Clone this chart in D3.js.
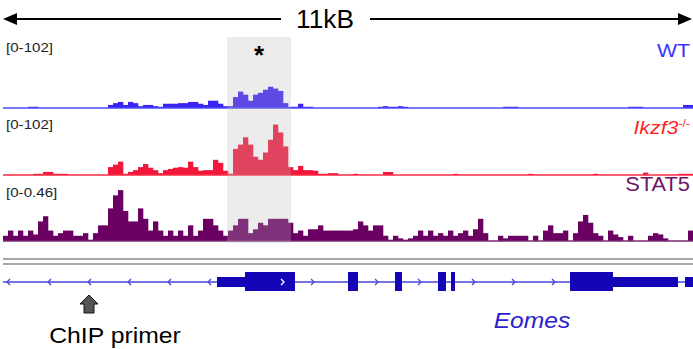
<!DOCTYPE html>
<html>
<head>
<script src="https://d3js.org/d3.v7.min.js"></script>
<style>
  body { margin: 0; background: #fff; }
  text { font-family: Arial, "Liberation Sans", sans-serif; }
</style>
</head>
<body>
<svg width="693" height="349" id="igv"></svg>
<script>
// genomic window, 80 bp bins, 138 bins ~ 11 kB
const binSize = 80;
const regionLength = 11040;

const wtValues = [
  0,0,0,0,0, 2,2,0,0,0, 0,0,0,0,0, 0,0,0,0,0,
  0,5,8,10,5, 10,8,3,5,5, 3,2,7,7,7, 8,8,10,10,7,
  5,12,12,7,3, 3,18,27,22,12, 22,25,30,35,32, 28,8,2,2,7,
  2,2,0,0,0, 0,0,0,0,0, 0,0,0,0,0, 2,3,2,2,3,
  2,0,0,0,0, 0,0,0,0,0, 0,0,0,0,0, 0,0,0,0,0,
  2,2,2,0,0, 0,0,0,0,0, 0,0,0,0,0, 0,0,0,0,0,
  0,0,0,0,0, 2,2,2,0,0, 0,0,0,0,0, 0,5,5
];
const koValues = [
  0,0,0,0,0, 0,2,2,5,5, 2,2,2,0,0, 0,0,0,0,0,
  0,13,17,22,2, 5,8,13,18,12, 8,3,8,10,12, 13,12,22,13,7,
  8,8,25,20,7, 2,43,50,62,50, 30,25,37,58,83, 70,47,13,8,15,
  8,8,7,2,2, 3,3,0,0,0, 2,0,0,0,0, 0,5,5,0,0,
  0,0,0,0,0, 0,0,0,0,0, 2,0,0,0,0, 0,0,0,0,0,
  0,0,0,0,0, 2,0,0,0,0, 0,0,0,0,0, 0,0,0,2,0,
  0,0,0,0,0, 0,0,0,4,0, 0,0,0,0,0, 2,2,2
];
const stat5Values = [
  0.04,0.08,0.04,0.08,0.04, 0.08,0.05,0.15,0.19,0.08,
  0.04,0.06,0.08,0.08,0.04, 0.04,0.06,0.01,0.06,0.12,
  0.12,0.25,0.35,0.39,0.23, 0.15,0.15,0.25,0.17,0.08,
  0.15,0.08,0.04,0.08,0.04, 0.08,0.04,0.12,0.04,0.08,
  0.17,0.17,0.12,0.08,0.04, 0.08,0.12,0.17,0.17,0.06,
  0.09,0.14,0.12,0.17,0.17, 0.17,0.17,0.14,0.06,0.08,
  0.04,0.09,0.09,0.12,0.08, 0.08,0.08,0.08,0.08,0.08,
  0.09,0.15,0.12,0.08,0.12, 0.12,0.04,0.01,0.04,0.02,
  0.01,0.02,0.04,0.08,0.04, 0.08,0.04,0.06,0.04,0.08,
  0.04,0.06,0.08,0.04,0.09, 0.17,0.06,0,0,0.04,
  0.02,0.04,0.04,0.04,0.04, 0,0.04,0,0.08,0.12,
  0.06,0.06,0.08,0,0.06, 0.15,0.2,0.14,0.06,0.04,
  0,0.08,0.05,0.03,0, 0.04,0,0,0,0.04,
  0.06,0.05,0.02,0,0, 0,0,0.08
];

const trackNames = ["WT", "Ikzf3", "STAT5"];
const trackRanges = ["[0-102]", "[0-102]", "[0-0.46]"];
const trackMax = [102, 102, 0.46];

// Eomes gene model (bp): start, end, type
const exonStarts = [3424, 3872, 5520, 6272, 6960, 7168, 9072, 9760, 10912];
const exonEnds   = [3872, 4672, 5680, 6384, 7088, 7232, 9760, 10800, 11040];
const exonTypes  = ["utr", "cds", "cds", "cds", "cds", "cds", "cds", "utr", "utr"];
const minusArrows = [80, 736, 1376, 2016, 2656, 3296];
const plusArrows = [4480, 4960, 5984, 6672, 7536, 8176, 8816];
const primerPos = 1376;
const highlight = [3584, 4608];

const svg = d3.select("#igv");
const x = d3.scaleLinear().domain([0, regionLength]).range([3, 693]);

const tracks = [
  {values: wtValues, base: 108, h: 62, fill: "#3a22f2", line: "#4b4bff", label: "#3535ff", rangeY: 52},
  {values: koValues, base: 175, h: 62, fill: "#f0173b", line: "#ff2a45", label: "#ff1f1f", rangeY: 129},
  {values: stat5Values, base: 241, h: 60, fill: "#6a0062", line: "#7a2a74", label: "#6e1468", rangeY: 197}
];

// scale arrow on top
const scaleBar = svg.append("g");
scaleBar.append("line").attr("x1", 12).attr("x2", 281).attr("y1", 19).attr("y2", 19)
  .attr("stroke", "#000").attr("stroke-width", 2);
scaleBar.append("line").attr("x1", 370).attr("x2", 682).attr("y1", 19).attr("y2", 19)
  .attr("stroke", "#000").attr("stroke-width", 2);
scaleBar.append("path").attr("d", "M3,19 L17,13 L17,25 Z").attr("fill", "#000");
scaleBar.append("path").attr("d", "M692,19 L678,13 L678,25 Z").attr("fill", "#000");
scaleBar.append("text").attr("transform", "translate(325,28) scale(1.05,1)").attr("text-anchor", "middle")
  .attr("font-size", 25).text("11kB");

// coverage tracks
tracks.forEach((t, k) => {
  const y = d3.scaleLinear().domain([0, trackMax[k]]).range([t.base, t.base - t.h]);
  const g = svg.append("g");
  g.selectAll("rect").data(t.values.map((v, i) => ({v, i})).filter(d => d.v > 0))
    .join("rect")
    .attr("x", d => x(d.i * binSize))
    .attr("width", d => x((d.i + 1) * binSize) - x(d.i * binSize) + 0.3)
    .attr("y", d => y(d.v))
    .attr("height", d => t.base - y(d.v))
    .attr("fill", t.fill);
  g.append("line").attr("x1", x(0)).attr("x2", x(regionLength))
    .attr("y1", t.base).attr("y2", t.base)
    .attr("stroke", t.line).attr("stroke-width", 1.5);
  g.append("text").attr("transform", `translate(6,${t.rangeY}) scale(1.12,1)`)
    .attr("font-size", 13.5).attr("fill", "#222").text(trackRanges[k]);
});

// track names on the right
svg.append("text").attr("transform", "translate(690,57) scale(1.12,1)").attr("text-anchor", "end")
  .attr("font-size", 19).attr("fill", tracks[0].label).text(trackNames[0]);
const ko = svg.append("text").attr("transform", "translate(690,134) scale(1.12,1)").attr("text-anchor", "end")
  .attr("font-size", 19).attr("fill", tracks[1].label).attr("font-style", "italic");
ko.append("tspan").text(trackNames[1]);
ko.append("tspan").attr("dy", -7).attr("font-size", 11).attr("font-style", "normal").text("-/-");
svg.append("text").attr("transform", "translate(690,191) scale(1.12,1)").attr("text-anchor", "end")
  .attr("font-size", 19.5).attr("fill", tracks[2].label).text(trackNames[2]);

// highlighted region
svg.append("rect").attr("x", x(highlight[0])).attr("width", x(highlight[1]) - x(highlight[0]))
  .attr("y", 37).attr("height", 206).attr("fill", "#b8b8b8").attr("opacity", 0.27);
svg.append("text").attr("x", (x(highlight[0]) + x(highlight[1])) / 2).attr("y", 64)
  .attr("text-anchor", "middle").attr("font-size", 26).attr("font-weight", "bold").text("*");

// separator lines
[259, 264].forEach(yy => {
  svg.append("line").attr("x1", 3).attr("x2", 693).attr("y1", yy).attr("y2", yy)
    .attr("stroke", "#8a8a8a").attr("stroke-width", 1.6);
});

// gene model
const geneY = 282;
const gene = svg.append("g");
gene.append("line").attr("x1", x(0)).attr("x2", x(regionLength)).attr("y1", geneY).attr("y2", geneY)
  .attr("stroke", "#4a44d8").attr("stroke-width", 1.3);
gene.selectAll("path.minus").data(minusArrows).join("path").attr("class", "minus")
  .attr("d", d => `M${x(d) + 2},${geneY - 3} L${x(d) - 1},${geneY} L${x(d) + 2},${geneY + 3}`)
  .attr("fill", "none").attr("stroke", "#4a44d8").attr("stroke-width", 1.3);
gene.selectAll("rect.exon").data(exonStarts.map((s, i) => ({s, e: exonEnds[i], t: exonTypes[i]})))
  .join("rect").attr("class", "exon")
  .attr("x", d => x(d.s)).attr("width", d => x(d.e) - x(d.s))
  .attr("y", d => d.t === "cds" ? geneY - 10 : geneY - 5)
  .attr("height", d => d.t === "cds" ? 19 : 10)
  .attr("fill", "#1405b6");
gene.selectAll("path.plus").data(plusArrows).join("path").attr("class", "plus")
  .attr("d", d => `M${x(d) - 2},${geneY - 3} L${x(d) + 1},${geneY} L${x(d) - 2},${geneY + 3}`)
  .attr("fill", "none").attr("stroke", (d, i) => i === 0 ? "#fff" : "#4a44d8").attr("stroke-width", 1.3);

// ChIP primer arrow
const px = x(primerPos);
svg.append("path")
  .attr("d", `M${px},295 L${px + 9},304 L${px + 5},304 L${px + 5},313 L${px - 5},313 L${px - 5},304 L${px - 9},304 Z`)
  .attr("fill", "#555").attr("stroke", "#111").attr("stroke-width", 1);
svg.append("text").attr("transform", "translate(115,343) scale(1.1,1)").attr("text-anchor", "middle")
  .attr("font-size", 22.5).text("ChIP primer");
svg.append("text").attr("transform", "translate(532,328) scale(1.12,1)").attr("text-anchor", "middle")
  .attr("font-size", 22).attr("font-style", "italic").attr("fill", "#2b22cc").text("Eomes");
</script>
</body>
</html>
